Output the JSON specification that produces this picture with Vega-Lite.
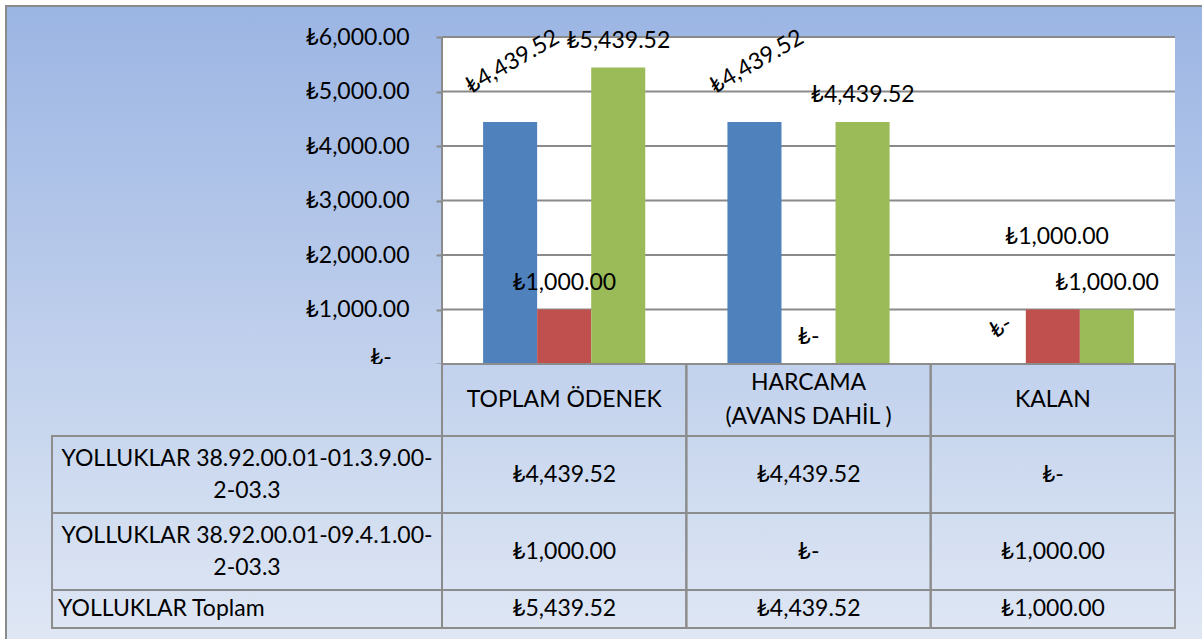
{
  "$schema": "https://vega.github.io/schema/vega-lite/v6.json",
  "padding": {"left": 5, "top": 5, "right": 0, "bottom": 0},
  "background": "white",
  "spacing": 0,
  "bounds": "flush",
  "config": {
    "locale": {"number": {"decimal": ".", "thousands": ",", "grouping": [3], "currency": ["₺", ""]}},
    "font": "Lato",
    "text": {"font": "Lato", "fontSize": 23, "color": "black"}
  },
  "resolve": {"scale": {"x": "independent", "y": "independent", "color": "independent", "xOffset": "independent"}},
  "datasets": {
    "bars": [
      {"cat": "TOPLAM ÖDENEK", "series": "YOLLUKLAR 38.92.00.01-01.3.9.00-\n2-03.3", "value": 4439.52},
      {"cat": "TOPLAM ÖDENEK", "series": "YOLLUKLAR 38.92.00.01-09.4.1.00-\n2-03.3", "value": 1000},
      {"cat": "TOPLAM ÖDENEK", "series": "YOLLUKLAR Toplam", "value": 5439.52},
      {"cat": "HARCAMA\n(AVANS DAHİL )", "series": "YOLLUKLAR 38.92.00.01-01.3.9.00-\n2-03.3", "value": 4439.52},
      {"cat": "HARCAMA\n(AVANS DAHİL )", "series": "YOLLUKLAR 38.92.00.01-09.4.1.00-\n2-03.3", "value": 0},
      {"cat": "HARCAMA\n(AVANS DAHİL )", "series": "YOLLUKLAR Toplam", "value": 4439.52},
      {"cat": "KALAN", "series": "YOLLUKLAR 38.92.00.01-01.3.9.00-\n2-03.3", "value": 0},
      {"cat": "KALAN", "series": "YOLLUKLAR 38.92.00.01-09.4.1.00-\n2-03.3", "value": 1000},
      {"cat": "KALAN", "series": "YOLLUKLAR Toplam", "value": 1000}
    ],
    "grid": [{"v": 0}, {"v": 1000}, {"v": 2000}, {"v": 3000}, {"v": 4000}, {"v": 5000}, {"v": 6000}]
  },
  "vconcat": [
    {
      "width": 1196,
      "height": 358,
      "view": {
        "fill": {"gradient": "linear", "x1": 0, "y1": 0, "x2": 0, "y2": 1, "stops": [{"offset": 0, "color": "#9BB5E3"}, {"offset": 1, "color": "#C2D1ED"}]},
        "stroke": "#8A8A8A", "strokeWidth": 2, "strokeDash": [1196, 1554, 358]
      },
      "layer": [
        {
          "data": {"name": "grid"},
          "transform": [{"filter": "datum.v == 0"}],
          "mark": {"type": "rect", "fill": "white"},
          "encoding": {
            "x": {"datum": "TOPLAM ÖDENEK", "type": "nominal", "bandPosition": 0, "scale": {"type": "band", "domain": ["TOPLAM ÖDENEK", "HARCAMA\n(AVANS DAHİL )", "KALAN"], "paddingInner": 0, "paddingOuter": 0.9475, "align": 0.9417}, "axis": null},
            "x2": {"datum": "KALAN", "bandPosition": 1},
            "y": {"datum": 0, "type": "quantitative", "scale": {"domain": [0, 6569], "nice": false, "zero": true}},
            "y2": {"datum": 6000}
          }
        },
        {
          "data": {"name": "grid"},
          "mark": {"type": "rule", "color": "#8A8A8A", "strokeWidth": 2},
          "encoding": {
            "x": {"datum": "TOPLAM ÖDENEK", "type": "nominal", "bandPosition": 0},
            "x2": {"datum": "KALAN", "bandPosition": 1},
            "y": {"field": "v", "type": "quantitative"}
          }
        },
        {
          "data": {"name": "grid"},
          "transform": [{"filter": "datum.v == 0"}],
          "mark": {"type": "rule", "color": "#8A8A8A", "strokeWidth": 2},
          "encoding": {
            "x": {"datum": "TOPLAM ÖDENEK", "type": "nominal", "bandPosition": 0},
            "y": {"datum": 0, "type": "quantitative"},
            "y2": {"datum": 6000}
          }
        },
        {
          "data": {"name": "bars"},
          "mark": {"type": "bar"},
          "encoding": {
            "x": {"field": "cat", "type": "nominal"},
            "xOffset": {"field": "series", "type": "nominal", "scale": {"type": "band", "domain": ["YOLLUKLAR 38.92.00.01-01.3.9.00-\n2-03.3", "YOLLUKLAR 38.92.00.01-09.4.1.00-\n2-03.3", "YOLLUKLAR Toplam"], "paddingInner": 0, "paddingOuter": 0.76}},
            "y": {
              "field": "value", "type": "quantitative",
              "axis": {
                "title": null, "values": [0, 1000, 2000, 3000, 4000, 5000, 6000],
                "domain": false, "grid": false, "ticks": true, "tickSize": 6, "tickColor": "#8A8A8A", "tickWidth": 2,
                "offset": -436, "labelFont": "Lato", "labelFontSize": 23, "labelColor": "black", "labelPadding": 27,
                "labelFlush": false, "labelOverlap": false,
                "labelBaseline": {"condition": {"test": "datum.value == 0", "value": "alphabetic"}, "value": "middle"},
                "labelExpr": "datum.value == 0 ? '₺-\u00a0\u00a0\u00a0\u200b' : format(datum.value, '$,.2f')"
              }
            },
            "color": {"field": "series", "type": "nominal", "scale": {"domain": ["YOLLUKLAR 38.92.00.01-01.3.9.00-\n2-03.3", "YOLLUKLAR 38.92.00.01-09.4.1.00-\n2-03.3", "YOLLUKLAR Toplam"], "range": ["#4F81BD", "#C0504D", "#9BBB59"]}, "legend": null}
          }
        },
        {
          "data": {"name": "bars"},
          "transform": [{"filter": "indexof(datum.series,'01.3.9')<0 && !(datum.cat=='KALAN' && indexof(datum.series,'09.4.1')>=0)"}],
          "mark": {"type": "text", "dy": -27},
          "encoding": {
            "x": {"field": "cat", "type": "nominal"},
            "xOffset": {"field": "series", "type": "nominal"},
            "y": {"field": "value", "type": "quantitative"},
            "text": {"condition": {"test": "datum.value == 0", "value": "₺-"}, "field": "value", "type": "quantitative", "format": "$,.2f"}
          }
        },
        {
          "data": {"name": "bars"},
          "transform": [{"filter": "indexof(datum.series,'01.3.9')>=0 && datum.cat != 'KALAN'"}],
          "mark": {"type": "text", "dy": -51, "dx": 32, "angle": 330},
          "encoding": {
            "x": {"field": "cat", "type": "nominal"},
            "xOffset": {"field": "series", "type": "nominal"},
            "y": {"field": "value", "type": "quantitative"},
            "text": {"condition": {"test": "datum.value == 0", "value": "₺-"}, "field": "value", "type": "quantitative", "format": "$,.2f"}
          }
        },
        {
          "data": {"name": "bars"},
          "transform": [{"filter": "indexof(datum.series,'01.3.9')>=0 && datum.cat == 'KALAN'"}],
          "mark": {"type": "text", "dy": -31, "dx": 20, "angle": 330},
          "encoding": {
            "x": {"field": "cat", "type": "nominal"},
            "xOffset": {"field": "series", "type": "nominal"},
            "y": {"field": "value", "type": "quantitative"},
            "text": {"condition": {"test": "datum.value == 0", "value": "₺-"}, "field": "value", "type": "quantitative", "format": "$,.2f"}
          }
        },
        {
          "data": {"name": "bars"},
          "transform": [{"filter": "datum.cat=='KALAN' && indexof(datum.series,'09.4.1')>=0"}],
          "mark": {"type": "text", "dy": -73, "dx": 4},
          "encoding": {
            "x": {"field": "cat", "type": "nominal"},
            "xOffset": {"field": "series", "type": "nominal"},
            "y": {"field": "value", "type": "quantitative"},
            "text": {"condition": {"test": "datum.value == 0", "value": "₺-"}, "field": "value", "type": "quantitative", "format": "$,.2f"}
          }
        }
      ]
    },
    {
      "width": 1196,
      "height": 72,
      "view": {
        "fill": {"gradient": "linear", "x1": 0, "y1": 0, "x2": 0, "y2": 1, "stops": [{"offset": 0, "color": "#C2D1ED"}, {"offset": 1, "color": "#C9D7EE"}]},
        "stroke": "#8A8A8A", "strokeWidth": 2, "strokeDash": [0, 2464, 72]
      },
      "data": {"name": "bars"},
      "transform": [{"filter": "indexof(datum.series,'Toplam')>=0"}],
      "layer": [
        {
          "mark": {"type": "rect", "fill": "transparent", "stroke": "#8C8C8C", "strokeWidth": 2},
          "encoding": {
            "x": {"field": "cat", "type": "nominal", "scale": {"type": "band", "domain": ["TOPLAM ÖDENEK", "HARCAMA\n(AVANS DAHİL )", "KALAN"], "paddingInner": 0, "paddingOuter": 0.9475, "align": 0.9417}, "axis": null},
            "y": {"value": 0},
            "y2": {"value": "height"}
          }
        },
        {
          "transform": [{"filter": "indexof(datum.cat,'HARCAMA')<0"}],
          "mark": {"type": "text"},
          "encoding": {
            "x": {"field": "cat", "type": "nominal"},
            "text": {"field": "cat"}
          }
        },
        {
          "transform": [{"filter": "indexof(datum.cat,'HARCAMA')==0"}],
          "mark": {"type": "text", "lineBreak": "\n", "lineHeight": 34, "dy": -17},
          "encoding": {
            "x": {"field": "cat", "type": "nominal"},
            "text": {"field": "cat"}
          }
        }
      ]
    },
    {
      "width": 1196,
      "height": 154,
      "view": {
        "fill": {"gradient": "linear", "x1": 0, "y1": 0, "x2": 0, "y2": 1, "stops": [{"offset": 0, "color": "#C9D7EE"}, {"offset": 1, "color": "#DAE3F3"}]},
        "stroke": "#8A8A8A", "strokeWidth": 2, "strokeDash": [0, 2546, 154]
      },
      "data": {"name": "bars"},
      "transform": [{"filter": "indexof(datum.series,'Toplam')<0"}],
      "resolve": {"scale": {"x": "independent"}},
      "layer": [
        {
          "mark": {"type": "rect", "fill": "transparent", "stroke": "#8C8C8C", "strokeWidth": 2},
          "encoding": {
            "x": {"field": "cat", "type": "nominal", "scale": {"type": "band", "domain": ["TOPLAM ÖDENEK", "HARCAMA\n(AVANS DAHİL )", "KALAN"], "paddingInner": 0, "paddingOuter": 0.9475, "align": 0.9417}, "axis": null},
            "y": {"field": "series", "type": "nominal", "scale": {"type": "band", "domain": ["YOLLUKLAR 38.92.00.01-01.3.9.00-\n2-03.3", "YOLLUKLAR 38.92.00.01-09.4.1.00-\n2-03.3"], "paddingInner": 0, "paddingOuter": 0}, "axis": null}
          }
        },
        {
          "mark": {"type": "text"},
          "encoding": {
            "x": {"field": "cat", "type": "nominal", "scale": {"type": "band", "domain": ["TOPLAM ÖDENEK", "HARCAMA\n(AVANS DAHİL )", "KALAN"], "paddingInner": 0, "paddingOuter": 0.9475, "align": 0.9417}, "axis": null},
            "y": {"field": "series", "type": "nominal"},
            "text": {"condition": {"test": "datum.value == 0", "value": "₺-"}, "field": "value", "type": "quantitative", "format": "$,.2f"}
          }
        },
        {
          "transform": [{"filter": "indexof(datum.cat,'TOPLAM')==0"}],
          "mark": {"type": "rect", "fill": "transparent", "stroke": "#8C8C8C", "strokeWidth": 2},
          "encoding": {
            "x": {"datum": "L", "type": "nominal", "scale": {"type": "band", "domain": ["L"], "paddingInner": 0.0323, "paddingOuter": 1, "align": 0.0571}, "axis": null},
            "y": {"field": "series", "type": "nominal"}
          }
        },
        {
          "transform": [{"filter": "indexof(datum.cat,'TOPLAM')==0"}],
          "mark": {"type": "text", "lineBreak": "\n", "lineHeight": 32, "dy": -16},
          "encoding": {
            "x": {"datum": "L", "type": "nominal", "scale": {"type": "band", "domain": ["L"], "paddingInner": 0.0323, "paddingOuter": 1, "align": 0.0571}, "axis": null},
            "y": {"field": "series", "type": "nominal"},
            "text": {"field": "series"}
          }
        }
      ]
    },
    {
      "width": 1196,
      "height": 49,
      "view": {
        "fill": {"gradient": "linear", "x1": 0, "y1": 0, "x2": 0, "y2": 1, "stops": [{"offset": 0, "color": "#DAE3F3"}, {"offset": 1, "color": "#DFE7F4"}]},
        "stroke": "#8A8A8A", "strokeWidth": 2, "strokeDash": [0, 2441, 49]
      },
      "data": {"name": "bars"},
      "transform": [{"filter": "indexof(datum.series,'Toplam')>=0"}],
      "resolve": {"scale": {"x": "independent"}},
      "layer": [
        {
          "mark": {"type": "rect", "fill": "transparent", "stroke": "#8C8C8C", "strokeWidth": 2},
          "encoding": {
            "x": {"field": "cat", "type": "nominal", "scale": {"type": "band", "domain": ["TOPLAM ÖDENEK", "HARCAMA\n(AVANS DAHİL )", "KALAN"], "paddingInner": 0, "paddingOuter": 0.9475, "align": 0.9417}, "axis": null},
            "y": {"field": "series", "type": "nominal", "scale": {"type": "band", "domain": ["YOLLUKLAR Toplam"], "paddingInner": 0, "paddingOuter": 0.1447, "align": 0}, "axis": null}
          }
        },
        {
          "mark": {"type": "text"},
          "encoding": {
            "x": {"field": "cat", "type": "nominal", "scale": {"type": "band", "domain": ["TOPLAM ÖDENEK", "HARCAMA\n(AVANS DAHİL )", "KALAN"], "paddingInner": 0, "paddingOuter": 0.9475, "align": 0.9417}, "axis": null},
            "y": {"field": "series", "type": "nominal"},
            "text": {"field": "value", "type": "quantitative", "format": "$,.2f"}
          }
        },
        {
          "transform": [{"filter": "indexof(datum.cat,'TOPLAM')==0"}],
          "mark": {"type": "rect", "fill": "transparent", "stroke": "#8C8C8C", "strokeWidth": 2},
          "encoding": {
            "x": {"datum": "L", "type": "nominal", "scale": {"type": "band", "domain": ["L"], "paddingInner": 0.0323, "paddingOuter": 1, "align": 0.0571}, "axis": null},
            "y": {"field": "series", "type": "nominal"}
          }
        },
        {
          "transform": [{"filter": "indexof(datum.cat,'TOPLAM')==0"}],
          "mark": {"type": "text", "align": "left", "dx": 6},
          "encoding": {
            "x": {"datum": "L", "type": "nominal", "bandPosition": 0, "scale": {"type": "band", "domain": ["L"], "paddingInner": 0.0323, "paddingOuter": 1, "align": 0.0571}, "axis": null},
            "y": {"field": "series", "type": "nominal"},
            "text": {"field": "series"}
          }
        }
      ]
    }
  ]
}
